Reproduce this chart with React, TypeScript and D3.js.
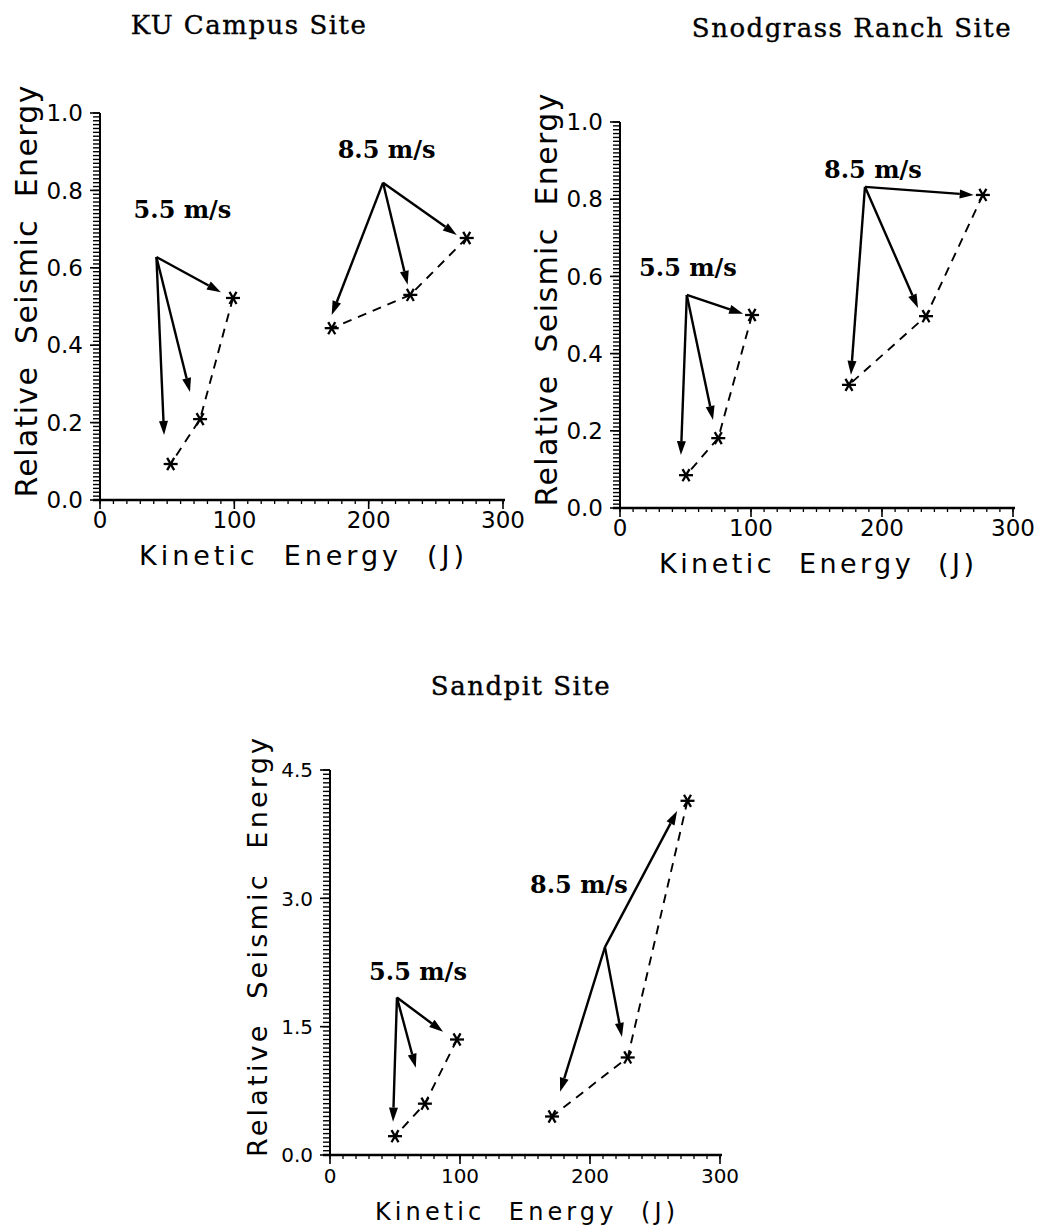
import React from 'react';
import * as d3 from 'd3';

type Pt = [number, number];

// KU Campus Site
const kuOrigin55: Pt = [42, 0.628];
const kuEnds55: Pt[] = [[90, 0.537], [67, 0.279], [47.7, 0.168]];
const kuStars55: Pt[] = [[99, 0.522], [74.5, 0.209], [52.6, 0.093]];
const kuOrigin85: Pt = [210.7, 0.82];
const kuEnds85: Pt[] = [[265.6, 0.685], [229, 0.556], [172.5, 0.478]];
const kuStars85: Pt[] = [[273, 0.677], [231, 0.53], [172.5, 0.444]];

// Snodgrass Ranch Site
const snOrigin55: Pt = [51, 0.552];
const snEnds55: Pt[] = [[94, 0.503], [71, 0.228], [46.5, 0.137]];
const snStars55: Pt[] = [[100.8, 0.5], [75, 0.181], [50.4, 0.085]];
const snOrigin85: Pt = [187, 0.832];
const snEnds85: Pt[] = [[270, 0.811], [227.5, 0.518], [176.3, 0.345]];
const snStars85: Pt[] = [[277, 0.811], [233.6, 0.497], [174.8, 0.319]];

// Sandpit Site
const sdOrigin55: Pt = [51.5, 1.84];
const sdEnds55: Pt[] = [[87, 1.44], [66, 1.02], [48.5, 0.39]];
const sdStars55: Pt[] = [[97.7, 1.35], [73, 0.6], [50, 0.22]];
const sdOrigin85: Pt = [211.5, 2.43];
const sdEnds85: Pt[] = [[267, 4.02], [224.6, 1.38], [177, 0.74]];
const sdStars85: Pt[] = [[275, 4.14], [229, 1.14], [170.8, 0.45]];

const xTicks = [0, 100, 200, 300];
const unitYTicks = [0, 0.2, 0.4, 0.6, 0.8, 1.0];
const sandYTicks = [0, 1.5, 3.0, 4.5];

const speedLabels = ['5.5 m/s', '8.5 m/s'];

const AX = '"DejaVu Sans", sans-serif';
const SERIF = '"DejaVu Serif", serif';

const Arrow = ({from, to}: {from: Pt; to: Pt}) => {
    const dx = to[0] - from[0], dy = to[1] - from[1];
    const len = Math.sqrt(dx * dx + dy * dy);
    const ux = dx / len, uy = dy / len;
    const hl = 14, hw = 4.5;
    const bx = to[0] - ux * hl, by = to[1] - uy * hl;
    const pts = [
        [to[0], to[1]],
        [bx - uy * hw, by + ux * hw],
        [bx + uy * hw, by - ux * hw],
    ].map(p => p.join(',')).join(' ');
    return (
        <g>
            <line x1={from[0]} y1={from[1]} x2={bx} y2={by} stroke="#000" strokeWidth={2.4} />
            <polygon points={pts} fill="#000" />
        </g>
    );
};

const Star = ({p}: {p: Pt}) => {
    const r = 7;
    return (
        <g stroke="#000" strokeWidth={2.3}>
            {[0, 60, 120].map(a => {
                const t = a * Math.PI / 180;
                return <line key={a} x1={p[0] - r * Math.cos(t)} y1={p[1] - r * Math.sin(t)}
                    x2={p[0] + r * Math.cos(t)} y2={p[1] + r * Math.sin(t)} />;
            })}
        </g>
    );
};

type Group = {origin: Pt; ends: Pt[]; stars: Pt[]; label: string; labelAt: Pt};

type PanelProps = {
    title: string; titleAt: [number, number];
    left: number; right: number; bottom: number; top: number;
    yMax: number; yTicks: number[]; yMinor: number; yFmt: (v: number) => string;
    groups: Group[]; fontSize: number; yTitleLen: number; xTitleLen: number;
};

const Panel = (p: PanelProps) => {
    const x = d3.scaleLinear().domain([0, 300]).range([p.left, p.right]);
    const y = d3.scaleLinear().domain([0, p.yMax]).range([p.bottom, p.top]);
    const sc = (d: Pt): Pt => [x(d[0]), y(d[1])];
    const line = d3.line<Pt>().x(d => x(d[0])).y(d => y(d[1]));
    const yMinorTicks = d3.range(0, p.yMax + p.yMinor / 2, p.yMinor);
    const xMinorTicks = d3.range(0, 301, 10);
    const midY = (p.top + p.bottom) / 2 - 15;
    return (
        <g>
            <text x={p.titleAt[0]} y={p.titleAt[1]} textAnchor="middle" fontFamily={SERIF} fontSize={26}
                letterSpacing={1.5} stroke="#000" strokeWidth={0.4}>{p.title}</text>
            {/* y axis */}
            <line x1={p.left} x2={p.left} y1={p.top} y2={p.bottom} stroke="#000" strokeWidth={2} />
            {yMinorTicks.map((t, i) => (
                <line key={i} x1={p.left - 7} x2={p.left} y1={y(t)} y2={y(t)} stroke="#000" strokeWidth={1.4} />
            ))}
            {p.yTicks.map(t => (
                <g key={t}>
                    <line x1={p.left - 10} x2={p.left} y1={y(t)} y2={y(t)} stroke="#000" strokeWidth={1.6} />
                    <text x={p.left - 17} y={y(t)} dy="0.36em" textAnchor="end" fontFamily={AX} fontSize={p.fontSize}>{p.yFmt(t)}</text>
                </g>
            ))}
            {/* x axis */}
            <line x1={p.left - 7} x2={p.right + 2} y1={p.bottom} y2={p.bottom} stroke="#000" strokeWidth={2.6} />
            {xMinorTicks.map(t => (
                <line key={t} x1={x(t)} x2={x(t)} y1={p.bottom} y2={p.bottom + 4} stroke="#000" strokeWidth={1.3} />
            ))}
            {xTicks.map(t => (
                <g key={t}>
                    <line x1={x(t)} x2={x(t)} y1={p.bottom} y2={p.bottom + 9} stroke="#000" strokeWidth={1.6} />
                    <text x={x(t)} y={p.bottom + 28} textAnchor="middle" fontFamily={AX} fontSize={p.fontSize}>{t}</text>
                </g>
            ))}
            <text x={(p.left + p.right) / 2} y={p.bottom + 65} textAnchor="middle" fontFamily={AX}
                fontSize={p.fontSize + 4} textLength={p.xTitleLen} lengthAdjust="spacing"
                style={{whiteSpace: 'pre'}}>{'Kinetic  Energy  (J)'}</text>
            <text transform={`translate(${p.left - 63},${midY}) rotate(-90)`} textAnchor="middle" fontFamily={AX}
                fontSize={p.fontSize + 7} textLength={p.yTitleLen} lengthAdjust="spacing"
                style={{whiteSpace: 'pre'}}>{'Relative  Seismic  Energy'}</text>
            {/* data */}
            {p.groups.map((g, gi) => (
                <g key={gi}>
                    <path d={line(g.stars) || ''} fill="none" stroke="#000" strokeWidth={1.9} strokeDasharray="9,7" />
                    {g.ends.map((e, i) => <Arrow key={i} from={sc(g.origin)} to={sc(e)} />)}
                    {g.stars.map((s, i) => <Star key={i} p={sc(s)} />)}
                    <text x={x(g.labelAt[0])} y={y(g.labelAt[1])} textAnchor="middle" fontFamily={SERIF}
                        fontWeight="bold" fontSize={24}>{g.label}</text>
                </g>
            ))}
        </g>
    );
};

const fmt1 = d3.format('.1f');

export default function App() {
    return (
        <div style={{position: 'absolute', left: 0, top: 0}}>
            <svg width={1050} height={1230} style={{display: 'block', background: '#fff'}}>
                <Panel title="KU Campus Site" titleAt={[249, 34]}
                    left={100} right={503} bottom={500} top={113} yMax={1} yTicks={unitYTicks} yMinor={0.01}
                    yFmt={fmt1} fontSize={23} yTitleLen={412} xTitleLen={325}
                    groups={[
                        {origin: kuOrigin55, ends: kuEnds55, stars: kuStars55, label: speedLabels[0], labelAt: [61.4, 0.729]},
                        {origin: kuOrigin85, ends: kuEnds85, stars: kuStars85, label: speedLabels[1], labelAt: [213.3, 0.884]},
                    ]} />
                <Panel title="Snodgrass Ranch Site" titleAt={[852, 37]}
                    left={620} right={1013} bottom={508} top={122} yMax={1} yTicks={unitYTicks} yMinor={0.01}
                    yFmt={fmt1} fontSize={23} yTitleLen={413} xTitleLen={315}
                    groups={[
                        {origin: snOrigin55, ends: snEnds55, stars: snStars55, label: speedLabels[0], labelAt: [51.9, 0.601]},
                        {origin: snOrigin85, ends: snEnds85, stars: snStars85, label: speedLabels[1], labelAt: [193.1, 0.855]},
                    ]} />
                <Panel title="Sandpit Site" titleAt={[521, 695]}
                    left={330} right={720} bottom={1155} top={770} yMax={4.5} yTicks={sandYTicks} yMinor={0.05}
                    yFmt={fmt1} fontSize={20} yTitleLen={419} xTitleLen={300}
                    groups={[
                        {origin: sdOrigin55, ends: sdEnds55, stars: sdStars55, label: speedLabels[0], labelAt: [67.7, 2.045]},
                        {origin: sdOrigin85, ends: sdEnds85, stars: sdStars85, label: speedLabels[1], labelAt: [191.5, 3.06]},
                    ]} />
            </svg>
        </div>
    );
}
